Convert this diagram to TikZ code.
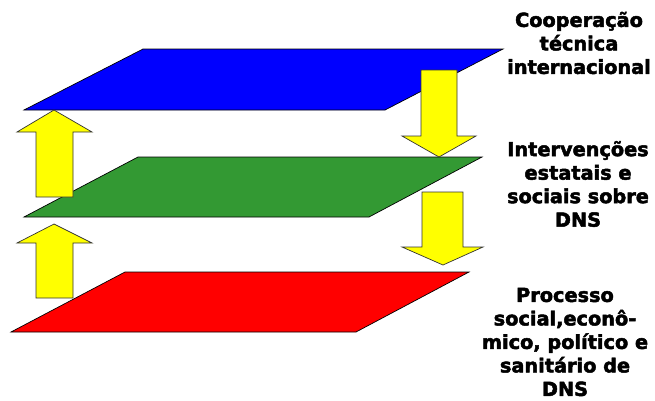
\documentclass[tikz,border=0pt]{standalone}
\usepackage{fontspec}
\setmainfont{DejaVu Sans}
\newfontfamily\heavyfont[FakeBold=2.5]{DejaVu Sans Bold}
\definecolor{planeblue}{RGB}{0,0,255}
\definecolor{planegreen}{RGB}{51,153,51}
\definecolor{planered}{RGB}{255,0,0}
\definecolor{arrowyellow}{RGB}{255,255,0}
\begin{document}
\begin{tikzpicture}[x=1pt,y=-1pt,
  plane/.style={draw=black,line width=0.7pt,line join=miter},
  bigarrow/.style={draw=black!80,line width=0.7pt,fill=arrowyellow},
  lbl/.style={align=center,inner sep=0pt,font=\heavyfont\fontsize{19.3}{23.5}\selectfont}]
\useasboundingbox (0,0) rectangle (655,400);
% planes
\coordinate (r1) at (125,272); \coordinate (r2) at (469,272);
\coordinate (r3) at (356,332); \coordinate (r4) at (11,332);
\coordinate (g1) at (138,157); \coordinate (g2) at (482,157);
\coordinate (g3) at (369,217); \coordinate (g4) at (24,217);
\coordinate (b1) at (143,49);  \coordinate (b2) at (503,49);
\coordinate (b3) at (385,110); \coordinate (b4) at (24,110);
\filldraw[plane,fill=planered]   (r1) -- (r2) -- (r3) -- (r4) -- cycle;
\filldraw[plane,fill=planegreen] (g1) -- (g2) -- (g3) -- (g4) -- cycle;
\filldraw[plane,fill=planeblue]  (b1) -- (b2) -- (b3) -- (b4) -- cycle;
% up arrows
\filldraw[bigarrow] (54,110) -- (92,132) -- (73,132) -- (73,197) -- (36,197) -- (36,132) -- (17,132) -- cycle;
\filldraw[bigarrow] (54,224) -- (92,243) -- (73,243) -- (73,298) -- (36,298) -- (36,243) -- (17,243) -- cycle;
% down arrows
\filldraw[bigarrow] (439,157) -- (476,136) -- (457,136) -- (457,70) -- (421,70) -- (421,136) -- (402,136) -- cycle;
\filldraw[bigarrow] (443,265) -- (483,247) -- (463,247) -- (463,192) -- (422,192) -- (422,247) -- (402,247) -- cycle;
% labels
\node[lbl] (t1) at (579,43) {Cooperação\\técnica\\internacional};
\node[lbl] (t2) at (578,184) {Intervenções\\estatais e\\sociais sobre\\DNS};
\node[lbl] (t3) at (565,342) {Processo\\social,econô-\\mico, político e\\sanitário de\\DNS};
\end{tikzpicture}
\end{document}
